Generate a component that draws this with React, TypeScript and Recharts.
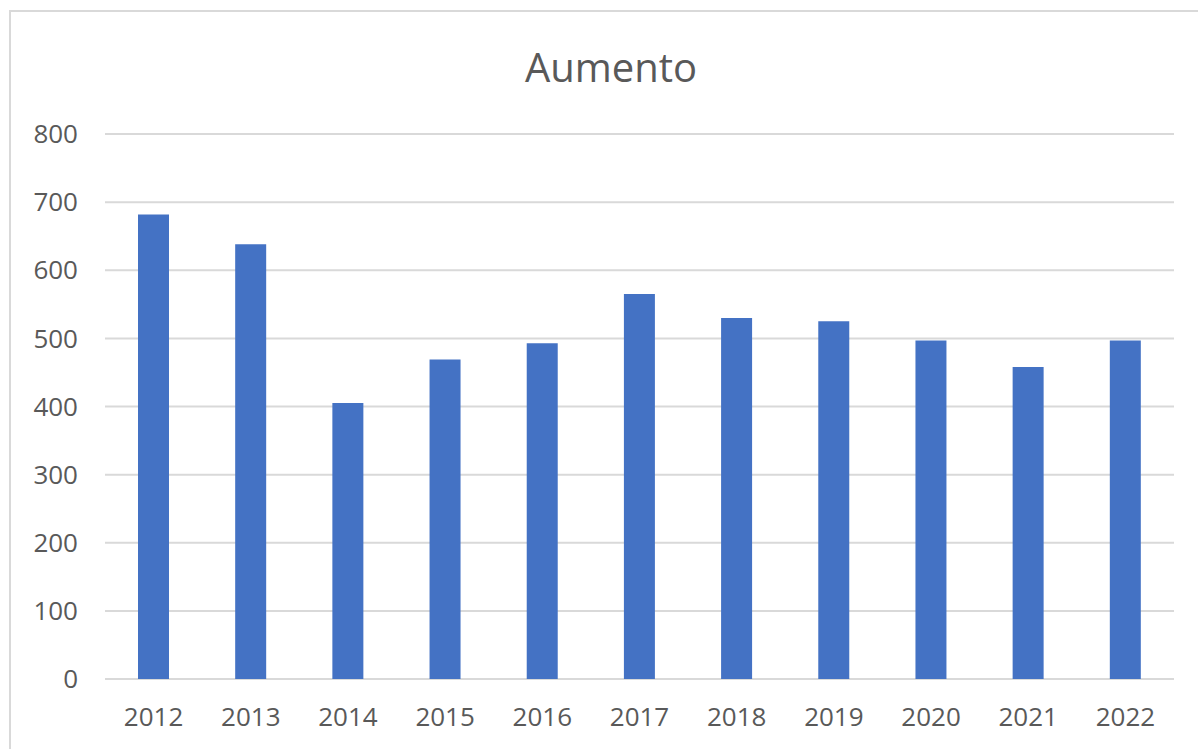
import { BarChart, Bar, XAxis, YAxis, CartesianGrid } from 'recharts'

const years = ['2012', '2013', '2014', '2015', '2016', '2017', '2018', '2019', '2020', '2021', '2022']
const aumento = [682, 638, 405, 469, 493, 565, 530, 525, 497, 458, 497]
const yTicks = [0, 100, 200, 300, 400, 500, 600, 700, 800]

const data = years.map((year, i) => ({ year, Aumento: aumento[i] }))

const FONT = '"Open Sans", "Noto Sans", sans-serif'
const TEXT = '#595959'

export default function App() {
  return (
    <div
      style={{
        position: 'absolute',
        top: 0,
        left: 0,
        width: 1198,
        height: 749,
        overflow: 'hidden',
        background: '#fff',
      }}
    >
      {/* chart frame, runs off the right and bottom edges */}
      <div
        style={{
          position: 'absolute',
          left: 9,
          top: 10,
          width: 1200,
          height: 760,
          border: '2px solid #d9d9d9',
          boxSizing: 'border-box',
        }}
      />
      <svg width={1198} height={120} style={{ position: 'absolute', left: 0, top: 0 }}>
        <text x={611} y={82} textAnchor="middle" fill={TEXT} fontFamily={FONT} fontSize={40}>
          Aumento
        </text>
      </svg>
      <div style={{ position: 'absolute', left: 0, top: 0 }}>
        <BarChart
          width={1198}
          height={749}
          data={data}
          margin={{ top: 134, right: 24, bottom: 0, left: 0 }}
        >
          <CartesianGrid vertical={false} stroke="#d9d9d9" strokeWidth={2} />
          <XAxis
            dataKey="year"
            height={70}
            axisLine={false}
            tickLine={false}
            tickSize={0}
            tickMargin={29}
            tick={{ fill: TEXT, fontSize: 26, fontFamily: FONT }}
          />
          <YAxis
            width={105}
            domain={[0, 800]}
            ticks={yTicks}
            axisLine={false}
            tickLine={false}
            tickSize={0}
            tickMargin={27}
            tick={{ fill: TEXT, fontSize: 26, fontFamily: FONT }}
          />
          <Bar dataKey="Aumento" fill="#4472C4" barSize={31} isAnimationActive={false} />
        </BarChart>
      </div>
    </div>
  )
}
